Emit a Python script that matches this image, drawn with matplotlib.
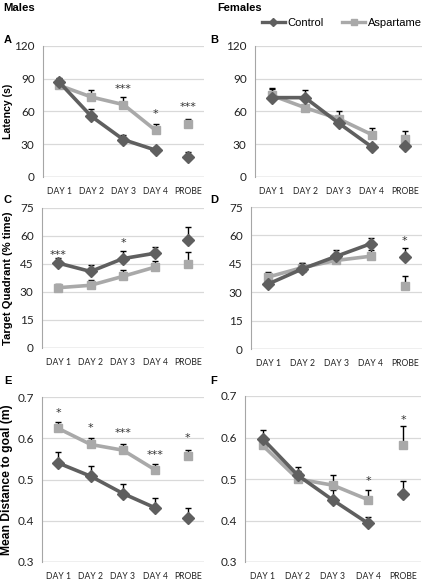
import matplotlib
matplotlib.use("Agg")
import matplotlib.pyplot as plt
from matplotlib.lines import Line2D
import numpy as np

W, H = 427, 581
categories = ["DAY 1", "DAY 2", "DAY 3", "DAY 4", "PROBE"]

# Panel A: Males latency (s)
A_ctrl = [87, 55.6, 34.2, 24.6, 18.3]
A_ctrl_err = [4, 7, 4, 3, 4.5]
A_asp = [84, 73.3, 66.3, 42.7, 48.9]
A_asp_err = [3, 6.7, 7, 5.5, 4.5]
A_stars = ["", "", "***", "*", "***"]
A_star_y = [None, None, 81, 58, 64]

# Panel B: Females latency (s)
B_ctrl = [72.7, 72.7, 49.5, 27.5, 28.5]
B_ctrl_err = [8, 7.3, 4, 3, 2]
B_asp = [74.8, 63.5, 53.4, 38.8, 35.1]
B_asp_err = [7, 2, 6.8, 6.1, 6.7]
B_stars = ["", "", "", "", ""]
B_star_y = [None, None, None, None, None]

# Panel C: Males target quadrant (% time)
C_ctrl = [45.5, 41.0, 47.9, 50.8, 58.0]
C_ctrl_err = [2.7, 3.6, 3.9, 3.3, 6.8]
C_asp = [32.3, 33.6, 38.4, 43.4, 44.8]
C_asp_err = [2.0, 3.0, 3.2, 3.1, 6.6]
C_stars = ["***", "", "*", "", ""]
C_star_y = [50.0, None, 56.0, None, None]

# Panel D: Females target quadrant (% time)
D_ctrl = [34.3, 42.3, 49.0, 55.6, 48.8]
D_ctrl_err = [3, 3, 3.2, 3.2, 4.6]
D_asp = [38.0, 43.0, 46.8, 49.0, 33.3]
D_asp_err = [2.5, 2.5, 2.5, 3.2, 5.4]
D_stars = ["", "", "", "", "*"]
D_star_y = [None, None, None, None, 57.0]

# Panel E: Males mean distance to goal (m)
E_ctrl = [0.540, 0.508, 0.466, 0.431, 0.407]
E_ctrl_err = [0.026, 0.024, 0.024, 0.024, 0.024]
E_asp = [0.624, 0.585, 0.571, 0.523, 0.556]
E_asp_err = [0.016, 0.015, 0.016, 0.015, 0.016]
E_stars = ["*", "*", "***", "***", "*"]
E_star_y = [0.662, 0.624, 0.612, 0.560, 0.600]

# Panel F: Females mean distance to goal (m)
F_ctrl = [0.597, 0.509, 0.449, 0.393, 0.465]
F_ctrl_err = [0.020, 0.021, 0.024, 0.015, 0.029]
F_asp = [0.581, 0.500, 0.485, 0.450, 0.581]
F_asp_err = [0.01, 0.02, 0.024, 0.024, 0.047]
F_stars = ["", "", "", "*", "*"]
F_star_y = [None, None, None, 0.495, 0.642]

CTRL = "#5f5f5f"
ASP = "#a9a9a9"
GRID = "#d9d9d9"
SPINE = "#a6a6a6"
TICKFONT = "Lato"
BOLDFONT = "Liberation Sans"

fig = plt.figure(figsize=(W / 100, H / 100), dpi=100)


def make_ax(l, r, t, b):
    return fig.add_axes([l / W, 1 - b / H, (r - l) / W, (b - t) / H])


def draw(ax, ctrl, ce, asp, ae, stars, sy, ylim, yticks, yfmt, ylabel=None, lsize=8, lx=13.5):
    x = np.arange(len(categories))
    ctrl = np.array(ctrl); asp = np.array(asp)
    ax.set_xlim(-0.5, 4.5)
    ax.set_ylim(*ylim)
    ax.set_yticks(yticks)
    ax.set_yticklabels([yfmt.format(v) for v in yticks], fontsize=8.5, family=TICKFONT, color="#222222")
    ax.set_xticks(x)
    ax.set_xticklabels(categories, fontsize=6.2, family=TICKFONT, color="#222222")
    ax.tick_params(length=0, pad=6)
    ax.tick_params(axis="x", pad=7)
    for s in ["top", "right", "bottom"]:
        ax.spines[s].set_visible(False)
    ax.spines["left"].set_color(SPINE)
    ax.spines["left"].set_linewidth(0.8)
    ax.set_axisbelow(True)
    ax.grid(axis="y", color=GRID, linewidth=0.9)
    ax.axhline(ylim[0], color=SPINE, linewidth=0.9, zorder=1)
    # error bars (upper only)
    ax.errorbar(x, ctrl, yerr=[np.zeros(5), np.array(ce)], fmt="none", ecolor="black",
                elinewidth=1.0, capsize=2.5, capthick=1.0, zorder=2)
    ax.errorbar(x, asp, yerr=[np.zeros(5), np.array(ae)], fmt="none", ecolor="black",
                elinewidth=1.0, capsize=2.5, capthick=1.0, zorder=2)
    ax.plot(x[:4], ctrl[:4], color=CTRL, lw=2.6, marker="D", ms=6, zorder=4)
    ax.plot(x[4:], ctrl[4:], color=CTRL, lw=0, marker="D", ms=6, zorder=4)
    ax.plot(x[:4], asp[:4], color=ASP, lw=2.6, marker="s", ms=6, zorder=3)
    ax.plot(x[4:], asp[4:], color=ASP, lw=0, marker="s", ms=6, zorder=3)
    for i, (s, yv) in enumerate(zip(stars, sy)):
        if s and yv is not None:
            ax.text(x[i], yv, s, ha="center", va="center", fontsize=8, color="#333333",
                    family="DejaVu Sans")
    if ylabel:
        ax.set_ylabel(ylabel, fontsize=lsize, fontweight="bold", family=BOLDFONT)
        bb = ax.get_position()
        ax.yaxis.set_label_coords((lx / W - bb.x0) / bb.width, 0.5)


axA = make_ax(43, 204, 46, 177)
axB = make_ax(255, 422, 46, 177)
axC = make_ax(42, 204, 208, 348)
axD = make_ax(251, 422, 207, 349)
axE = make_ax(42, 204, 397, 562)
axF = make_ax(245, 421, 396, 562)

lat_ticks = [0, 30, 60, 90, 120]
tq_ticks = [0, 15, 30, 45, 60, 75]
d_ticks = [0.3, 0.4, 0.5, 0.6, 0.7]
draw(axA, A_ctrl, A_ctrl_err, A_asp, A_asp_err, A_stars, A_star_y, (0, 120), lat_ticks, "{:d}", "Latency (s)", 7.6)
draw(axB, B_ctrl, B_ctrl_err, B_asp, B_asp_err, B_stars, B_star_y, (0, 120), lat_ticks, "{:d}")
draw(axC, C_ctrl, C_ctrl_err, C_asp, C_asp_err, C_stars, C_star_y, (0, 75), tq_ticks, "{:d}", "Target Quadrant (% time)", 8.1)
draw(axD, D_ctrl, D_ctrl_err, D_asp, D_asp_err, D_stars, D_star_y, (0, 75), tq_ticks, "{:d}")
draw(axE, E_ctrl, E_ctrl_err, E_asp, E_asp_err, E_stars, E_star_y, (0.3, 0.7), d_ticks, "{:.1f}", "Mean Distance to goal (m)", 8.7)
draw(axF, F_ctrl, F_ctrl_err, F_asp, F_asp_err, F_stars, F_star_y, (0.3, 0.7), d_ticks, "{:.1f}")

def ftext(x, y, s, size=8):
    fig.text(x / W, 1 - y / H, s, ha="left", va="center", fontsize=size, fontweight="bold", family=BOLDFONT)

ftext(3, 8, "Males", 8.2)
ftext(217, 8, "Females", 8)
ftext(4, 40, "A"); ftext(210, 40, "B")
ftext(4, 200, "C"); ftext(210, 200, "D")
ftext(4, 381, "E"); ftext(210, 381, "F")

handles = [Line2D([], [], color=CTRL, lw=2.4, marker="D", ms=4.5),
           Line2D([], [], color=ASP, lw=2.4, marker="s", ms=4.5)]
fig.legend(handles, ["Control", "Aspartame"], loc="center left", bbox_to_anchor=(262 / W, 1 - 23 / H),
           ncol=2, frameon=False, handlelength=2.07, handletextpad=0.2, columnspacing=1.7,
           borderaxespad=0, borderpad=0,
           prop={"family": "Liberation Sans", "size": 8})

fig.savefig("out.png", dpi=100)
